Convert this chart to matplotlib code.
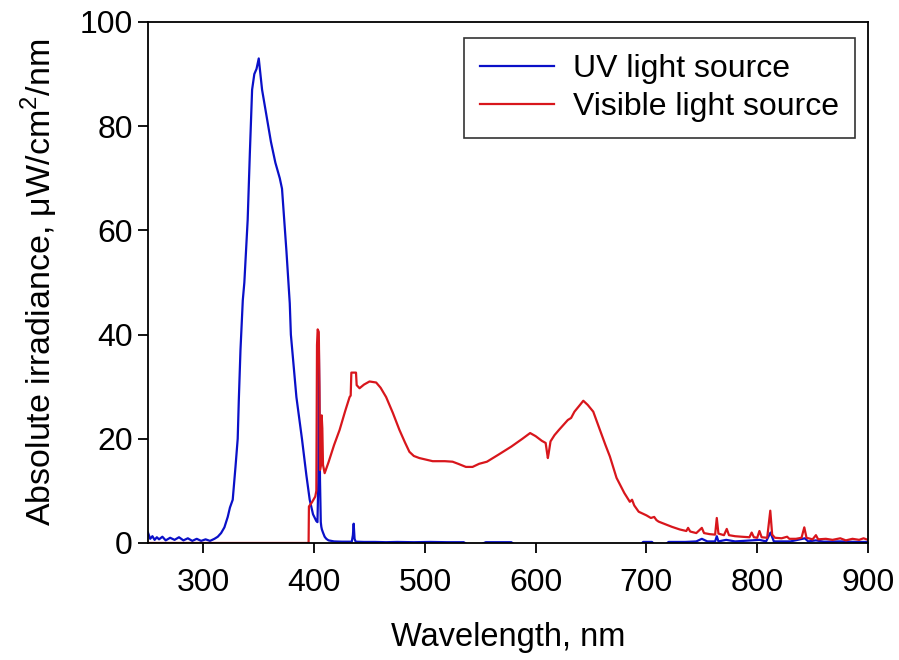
import numpy as np
import matplotlib.pyplot as plt

plt.rcParams['font.family'] = ['Liberation Sans', 'DejaVu Sans']
plt.rcParams['mathtext.fontset'] = 'custom'
plt.rcParams['mathtext.rm'] = 'Liberation Sans'

# UV light source (values below 0 are clipped by the axis, as in the original)
uv_wl = [250, 252, 254, 256, 258, 260, 263, 266, 270, 274, 278, 282, 286, 290, 294, 298,
         302, 306, 310, 313, 316, 319, 322, 324, 326.5, 329, 331, 332, 333.5, 335.6, 337, 340,
         342, 344, 346, 348, 350, 353, 357, 361, 365, 369, 371, 375, 378, 379, 384, 389, 393,
         396, 399, 402, 403, 403.8, 404.3, 404.8, 405.3, 406, 406.5, 407, 408, 409.5, 411, 413,
         418, 425, 434, 435, 435.7, 436.5, 437.5, 445, 455, 465, 475, 490, 505, 520, 535,
         540, 548, 555, 565, 578, 582, 640, 694, 697, 705, 708, 716, 720, 735, 745, 750,
         755, 762, 763.5, 765, 772, 780, 795, 802, 808, 812, 815, 830, 843, 846, 853, 860,
         875, 890, 900]
uv_irr = [2.0, 0.8, 1.3, 0.6, 1.1, 0.7, 1.2, 0.5, 1.0, 0.6, 1.1, 0.5, 0.9, 0.4, 0.8, 0.4,
          0.7, 0.4, 0.8, 1.2, 1.9, 3.0, 5.0, 6.8, 8.3, 14.6, 20.0, 27.4, 37.0, 46.6, 50.0, 62.0,
          75.0, 87.0, 90.0, 91.0, 93.0, 87.0, 82.0, 77.0, 73.0, 70.0, 68.0, 56.0, 46.0, 40.0, 28.0, 20.0, 13.0,
          8.3, 5.5, 4.2, 4.0, 12.0, 37.0, 25.0, 12.0, 4.0, 3.1, 2.6, 2.0, 1.2, 0.8, 0.5,
          0.3, 0.25, 0.25, 1.5, 3.7, 0.8, 0.25, 0.2, 0.2, 0.15, 0.2, 0.15, 0.2, 0.15, 0.15,
          -0.5, -0.5, 0.15, 0.15, 0.15, -0.5, -0.5, -0.5, 0.2, 0.2, -0.5, -0.5, 0.2, 0.2, 0.3, 0.8,
          0.3, 0.3, 1.3, 0.3, 0.6, 0.3, 0.5, 0.6, 0.3, 2.0, 0.3, 0.3, 0.9, 0.3, 0.5, 0.25,
          0.3, 0.2, 0.2]

# Visible light source
vis_wl = [250, 395, 395.3, 398, 401, 402, 402.6, 403.2, 404.2, 404.8, 405.3, 406.2, 406.8,
          407.4, 408, 409.5, 413, 418, 423, 428, 432, 433, 433.6, 437.8, 438.4, 441, 445,
          450, 456, 460, 465, 471, 477, 482, 486, 490, 495, 507, 518, 525, 530, 537, 543,
          549, 556, 566, 578, 588, 595, 600, 605.6, 609, 610.5, 611, 611.8, 613.4, 617,
          621, 629, 632, 635, 640, 643, 647, 652, 658, 663, 667, 673, 680, 685, 687, 689,
          693, 700, 704, 707, 709, 711, 717, 723, 730, 736, 737.6, 739.5, 745, 750, 752,
          757, 762, 763.5, 765, 770, 772.5, 774.5, 780, 786, 793, 795, 797, 800, 802, 804,
          809, 811.8, 813.5, 816, 822, 827, 829, 835, 840, 842.5, 844.5, 850, 853, 855,
          862, 868, 875, 880, 886, 892, 896, 900]
vis_irr = [0, 0, 7.0, 7.8, 8.9, 10.0, 38.0, 41.0, 40.5, 30.0, 14.0, 15.0, 24.5,
           22.0, 15.0, 13.4, 15.5, 18.8, 21.7, 25.3, 28.0, 28.3, 32.7, 32.7, 30.3, 29.7, 30.4,
           31.0, 30.8, 29.8, 28.0, 25.0, 21.7, 19.3, 17.5, 16.7, 16.3, 15.7, 15.7, 15.6, 15.2, 14.6, 14.6,
           15.2, 15.6, 16.9, 18.5, 20.0, 21.1, 20.5, 19.6, 19.2, 17.0, 16.3, 17.3, 19.5, 20.7,
           21.7, 23.6, 24.0, 25.2, 26.5, 27.3, 26.5, 25.2, 21.7, 18.8, 16.6, 12.5, 9.6, 7.9, 8.3, 7.2,
           6.0, 5.3, 4.8, 5.0, 4.4, 4.1, 3.6, 3.1, 2.6, 2.3, 2.9, 2.2, 1.9, 2.9, 1.9,
           1.7, 1.6, 4.8, 1.8, 1.5, 2.7, 1.5, 1.3, 1.2, 1.1, 2.0, 1.1, 1.0, 2.3, 1.1,
           1.0, 6.2, 1.6, 1.0, 0.9, 1.2, 0.8, 0.8, 1.0, 3.0, 1.0, 0.7, 1.5, 0.7,
           0.8, 0.6, 0.9, 0.5, 0.8, 0.6, 0.9, 0.6]

fig, ax = plt.subplots(figsize=(8.99, 6.6), dpi=100)
fig.subplots_adjust(left=0.1646, right=0.9655, bottom=0.1773, top=0.9667)

ax.plot(uv_wl, uv_irr, color='#0a10c8', lw=1.6, label='UV light source')
ax.plot(vis_wl, vis_irr, color='#d8161c', lw=1.6, label='Visible light source')

ax.set_xlim(250, 900)
ax.set_ylim(0, 100)
ax.set_xticks([300, 400, 500, 600, 700, 800, 900])
ax.set_yticks([0, 20, 40, 60, 80, 100])
ax.tick_params(direction='out', length=7, width=1.3, labelsize=23,
               top=False, right=False)
ax.tick_params(axis='x', pad=11)
ax.tick_params(axis='y', pad=4)
for s in ax.spines.values():
    s.set_linewidth(1.3)

ax.set_xlabel('Wavelength, nm', fontsize=23.5, labelpad=17)
ax.set_ylabel('Absolute irradiance, μW/cm$^2$/nm', fontsize=24.5, labelpad=14)

leg = ax.legend(loc='upper right', fontsize=23, frameon=True, fancybox=False,
                edgecolor='black', handlelength=2.3, handletextpad=0.6,
                borderpad=0.5, labelspacing=0.25, borderaxespad=0,
                bbox_to_anchor=(0.982, 0.969))
leg.get_frame().set_linewidth(1.2)

plt.savefig('out.png', dpi=100)
